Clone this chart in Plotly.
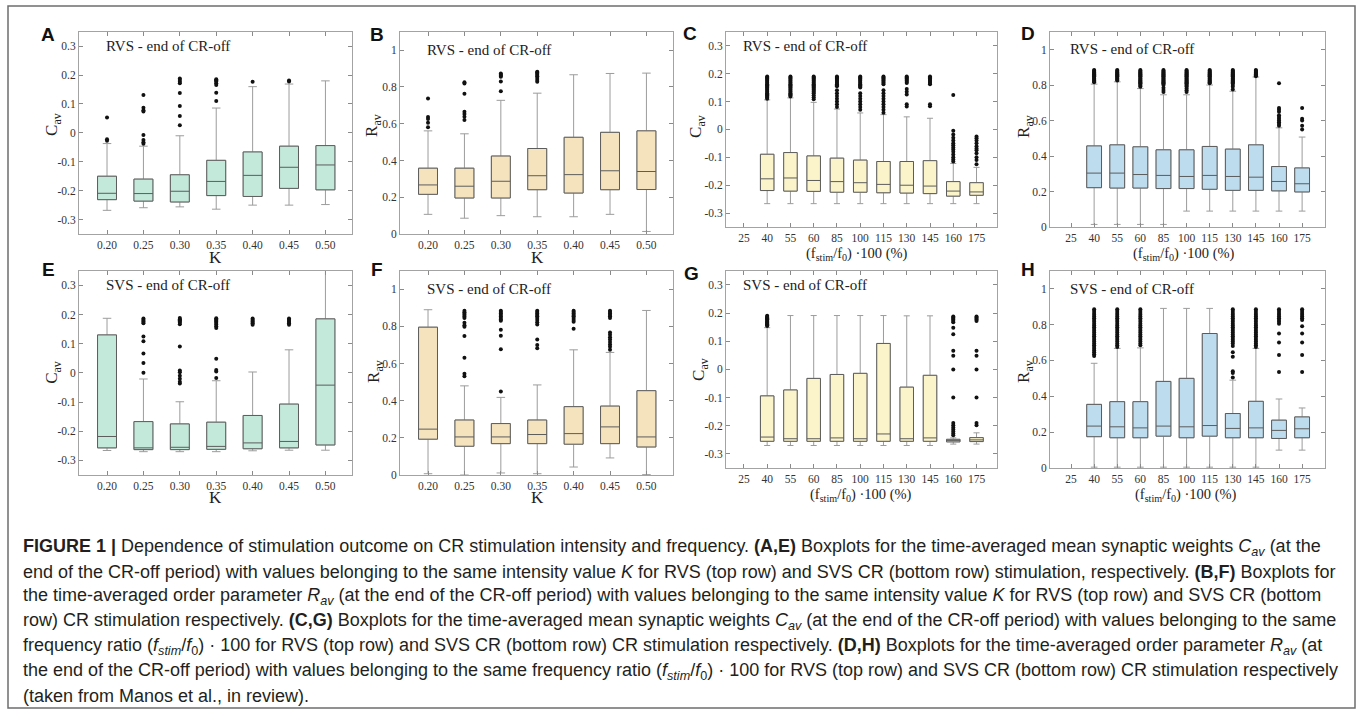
import plotly.graph_objects as go

W, H = 1358, 720

# ---------------- categories / ticks ----------------
K_CATS = ["0.20", "0.25", "0.30", "0.35", "0.40", "0.45", "0.50"]
F_CATS = ["25", "40", "55", "60", "85", "100", "115", "130", "145", "160", "175"]
F_DATA_CATS = ["40", "55", "60", "85", "100", "115", "130", "145", "160", "175"]
C_TICKVALS = [-0.3, -0.2, -0.1, 0, 0.1, 0.2, 0.3]
C_TICKTEXT = ["-0.3", "-0.2", "-0.1", "0", "0.1", "0.2", "0.3"]
R_TICKVALS = [0, 0.2, 0.4, 0.6, 0.8, 1]
R_TICKTEXT = ["0", "0.2", "0.4", "0.6", "0.8", "1"]

# ---------------- Panel A : RVS, C_av vs K ----------------
A_q1 = [-0.231, -0.236, -0.239, -0.217, -0.220, -0.192, -0.197]
A_med = [-0.209, -0.210, -0.202, -0.168, -0.147, -0.119, -0.111]
A_q3 = [-0.150, -0.160, -0.145, -0.095, -0.066, -0.046, -0.044]
A_lo = [-0.268, -0.259, -0.256, -0.264, -0.250, -0.250, -0.248]
A_hi = [-0.037, -0.046, -0.010, 0.086, 0.160, 0.169, 0.180]
A_out = [[0.053, -0.022, -0.027],
         [0.131, 0.087, 0.078, 0.074, -0.007, -0.025, -0.032, -0.038],
         [0.188, 0.183, 0.177, 0.172, 0.138, 0.093, 0.058, 0.026],
         [0.186, 0.182, 0.178, 0.172, 0.166, 0.139, 0.110],
         [0.177],
         [0.181, 0.178],
         []]

# ---------------- Panel B : RVS, R_av vs K ----------------
B_q1 = [0.216, 0.196, 0.196, 0.241, 0.223, 0.241, 0.242]
B_med = [0.267, 0.260, 0.287, 0.317, 0.323, 0.344, 0.340]
B_q3 = [0.358, 0.358, 0.424, 0.465, 0.526, 0.553, 0.561]
B_lo = [0.107, 0.086, 0.100, 0.094, 0.094, 0.107, 0.014]
B_hi = [0.561, 0.545, 0.727, 0.766, 0.866, 0.873, 0.875]
B_out = [[0.737, 0.636, 0.625, 0.605, 0.580],
         [0.825, 0.818, 0.763, 0.665, 0.652, 0.638, 0.620],
         [0.873, 0.866, 0.860, 0.855, 0.829, 0.777],
         [0.883, 0.878, 0.872, 0.865, 0.858, 0.848, 0.838, 0.828],
         [], [], []]

# ---------------- Panel C : RVS, C_av vs frequency ----------------
C_q1 = [-0.219, -0.221, -0.222, -0.225, -0.225, -0.227, -0.228, -0.230, -0.239, -0.236]
C_med = [-0.177, -0.174, -0.183, -0.187, -0.191, -0.197, -0.200, -0.203, -0.221, -0.224]
C_q3 = [-0.089, -0.083, -0.095, -0.103, -0.110, -0.115, -0.115, -0.112, -0.187, -0.191]
C_lo = [-0.266, -0.266, -0.266, -0.266, -0.266, -0.266, -0.266, -0.266, -0.266, -0.266]
C_hi = [0.106, 0.113, 0.097, 0.073, 0.059, 0.053, 0.045, 0.040, -0.122, -0.136]
C_out = [[0.190, 0.186, 0.182, 0.178, 0.174, 0.170, 0.166, 0.162, 0.158, 0.154, 0.150,
          0.146, 0.142, 0.138, 0.134, 0.130, 0.126, 0.122, 0.118, 0.114, 0.110],
         [0.190, 0.186, 0.182, 0.178, 0.174, 0.170, 0.166, 0.162, 0.158, 0.154, 0.150,
          0.146, 0.142, 0.138, 0.134, 0.130, 0.126, 0.122, 0.118],
         [0.190, 0.186, 0.182, 0.178, 0.174, 0.170, 0.166, 0.162, 0.158, 0.154, 0.150,
          0.146, 0.142, 0.138, 0.134, 0.130, 0.122, 0.115, 0.108],
         [0.190, 0.186, 0.182, 0.178, 0.174, 0.170, 0.166, 0.162, 0.158, 0.155,
          0.140, 0.130, 0.120, 0.110, 0.100, 0.090, 0.080],
         [0.190, 0.186, 0.182, 0.178, 0.174, 0.170, 0.166, 0.162, 0.158, 0.154, 0.150,
          0.130, 0.120, 0.110, 0.100, 0.090, 0.080, 0.070],
         [0.190, 0.186, 0.182, 0.178, 0.174, 0.170, 0.166, 0.162,
          0.140, 0.130, 0.120, 0.110, 0.100, 0.090, 0.080, 0.070, 0.060],
         [0.190, 0.186, 0.182, 0.178, 0.174, 0.170, 0.166, 0.145, 0.135, 0.125, 0.090, 0.082],
         [0.190, 0.186, 0.182, 0.178, 0.174, 0.170, 0.166, 0.162, 0.090, 0.083],
         [0.123, -0.005, -0.018, -0.030, -0.040, -0.050, -0.057, -0.065, -0.072,
          -0.080, -0.090, -0.100, -0.108, -0.115],
         [-0.025, -0.032, -0.040, -0.050, -0.060, -0.068, -0.075, -0.085, -0.100, -0.110, -0.125]]

# ---------------- Panel D : RVS, R_av vs frequency ----------------
D_q1 = [0.222, 0.220, 0.220, 0.217, 0.217, 0.213, 0.207, 0.207, 0.204, 0.198]
D_med = [0.304, 0.304, 0.296, 0.291, 0.285, 0.291, 0.285, 0.281, 0.257, 0.244]
D_q3 = [0.457, 0.463, 0.452, 0.435, 0.435, 0.454, 0.439, 0.463, 0.341, 0.333]
D_lo = [0.015, 0.015, 0.015, 0.015, 0.090, 0.090, 0.090, 0.090, 0.090, 0.090]
D_hi = [0.805, 0.818, 0.780, 0.745, 0.745, 0.800, 0.765, 0.845, 0.559, 0.507]
D_out = [[0.885, 0.880, 0.875, 0.870, 0.865, 0.860, 0.855, 0.850, 0.845, 0.840, 0.835,
          0.830, 0.825, 0.820, 0.815],
         [0.885, 0.880, 0.875, 0.870, 0.865, 0.860, 0.855, 0.850, 0.845, 0.840, 0.835,
          0.830, 0.825],
         [0.885, 0.880, 0.875, 0.870, 0.865, 0.860, 0.855, 0.850, 0.845, 0.840, 0.835,
          0.830, 0.825, 0.820, 0.815, 0.810, 0.805, 0.800, 0.795, 0.790],
         [0.885, 0.880, 0.875, 0.870, 0.865, 0.860, 0.855, 0.850, 0.845, 0.840, 0.835,
          0.830, 0.825, 0.820, 0.815, 0.810, 0.805, 0.800, 0.785, 0.772, 0.760],
         [0.885, 0.880, 0.875, 0.870, 0.865, 0.860, 0.855, 0.850, 0.845, 0.840, 0.835,
          0.830, 0.825, 0.820, 0.815, 0.810, 0.805, 0.800, 0.795, 0.790, 0.780, 0.770, 0.760],
         [0.885, 0.880, 0.875, 0.870, 0.865, 0.860, 0.855, 0.850, 0.845, 0.840, 0.835,
          0.830, 0.825, 0.820, 0.815, 0.810],
         [0.885, 0.880, 0.875, 0.870, 0.865, 0.860, 0.855, 0.850, 0.845, 0.840, 0.835,
          0.830, 0.825, 0.820, 0.815, 0.810, 0.800, 0.790, 0.775],
         [0.885, 0.880, 0.875, 0.870, 0.865, 0.860, 0.855, 0.850],
         [0.810, 0.670, 0.660, 0.650, 0.630, 0.620, 0.610, 0.600, 0.590, 0.580, 0.570],
         [0.670, 0.610, 0.600, 0.570, 0.550]]

# ---------------- Panel E : SVS, C_av vs K ----------------
E_q1 = [-0.257, -0.263, -0.263, -0.262, -0.260, -0.257, -0.247]
E_med = [-0.218, -0.257, -0.255, -0.252, -0.240, -0.235, -0.042]
E_q3 = [0.130, -0.167, -0.175, -0.169, -0.146, -0.107, 0.185]
E_lo = [-0.266, -0.270, -0.270, -0.270, -0.267, -0.265, -0.265]
E_hi = [0.187, -0.021, -0.099, -0.027, 0.003, 0.079, 0.370]
E_out = [[],
         [0.186, 0.182, 0.178, 0.174, 0.170, 0.125, 0.108, 0.066, 0.034, 0.000],
         [0.188, 0.184, 0.180, 0.176, 0.172, 0.167, 0.090, 0.008, 0.002, -0.010,
          -0.020, -0.030, -0.036],
         [0.187, 0.183, 0.179, 0.175, 0.171, 0.166, 0.160, 0.154, 0.048, 0.010, 0.005, -0.018],
         [0.186, 0.182, 0.178, 0.174, 0.170, 0.165],
         [0.186, 0.182, 0.178, 0.174, 0.170, 0.165],
         []]

# ---------------- Panel F : SVS, R_av vs K ----------------
F_q1 = [0.193, 0.155, 0.169, 0.169, 0.166, 0.169, 0.151]
F_med = [0.247, 0.205, 0.205, 0.218, 0.223, 0.259, 0.205]
F_q3 = [0.796, 0.296, 0.277, 0.296, 0.368, 0.371, 0.454]
F_lo = [0.007, 0.000, 0.011, 0.007, 0.043, 0.092, 0.002]
F_hi = [0.890, 0.480, 0.418, 0.485, 0.674, 0.660, 0.886]
F_out = [[],
         [0.885, 0.877, 0.869, 0.861, 0.853, 0.845, 0.820, 0.806, 0.798, 0.748, 0.632, 0.545, 0.532],
         [0.885, 0.878, 0.870, 0.862, 0.854, 0.846, 0.838, 0.830, 0.782, 0.750, 0.677, 0.450],
         [0.885, 0.878, 0.870, 0.862, 0.855, 0.845, 0.835, 0.822, 0.810, 0.730, 0.700, 0.683],
         [0.885, 0.878, 0.870, 0.862, 0.855, 0.845, 0.835, 0.825, 0.788],
         [0.885, 0.878, 0.870, 0.862, 0.855, 0.845, 0.768, 0.755, 0.742, 0.730, 0.716,
          0.703, 0.690, 0.675],
         []]

# ---------------- Panel G : SVS, C_av vs frequency ----------------
G_q1 = [-0.255, -0.255, -0.255, -0.255, -0.255, -0.255, -0.255, -0.255, -0.257, -0.256]
G_med = [-0.240, -0.246, -0.246, -0.243, -0.246, -0.229, -0.246, -0.243, -0.252, -0.250]
G_q3 = [-0.094, -0.073, -0.032, -0.018, -0.014, 0.092, -0.063, -0.021, -0.248, -0.242]
G_lo = [-0.270, -0.270, -0.270, -0.270, -0.270, -0.270, -0.270, -0.270, -0.265, -0.265]
G_hi = [0.148, 0.191, 0.191, 0.191, 0.191, 0.191, 0.190, 0.190, -0.243, -0.225]
G_out = [[0.190, 0.187, 0.184, 0.181, 0.178, 0.175, 0.172, 0.169, 0.166, 0.163, 0.160, 0.157, 0.154],
         [], [], [], [], [], [], [],
         [0.188, 0.184, 0.180, 0.176, 0.172, 0.167, 0.148, 0.125, 0.066, 0.048, 0.000, -0.100,
          -0.190, -0.198, -0.206, -0.213, -0.220, -0.227, -0.234],
         [0.188, 0.184, 0.180, 0.176, 0.172, 0.066, 0.048, 0.000, -0.100, -0.190, -0.198]]

# ---------------- Panel H : SVS, R_av vs frequency ----------------
H_q1 = [0.175, 0.169, 0.169, 0.178, 0.169, 0.178, 0.169, 0.169, 0.165, 0.169]
H_med = [0.234, 0.230, 0.224, 0.234, 0.230, 0.237, 0.221, 0.224, 0.210, 0.219]
H_q3 = [0.355, 0.370, 0.370, 0.483, 0.500, 0.750, 0.304, 0.372, 0.267, 0.285]
H_lo = [0.005, 0.005, 0.005, 0.005, 0.005, 0.005, 0.005, 0.005, 0.100, 0.100]
H_hi = [0.584, 0.667, 0.670, 0.890, 0.890, 0.890, 0.490, 0.667, 0.385, 0.335]
H_out = [[0.885, 0.875, 0.865, 0.855, 0.845, 0.835, 0.825, 0.815, 0.805, 0.795, 0.785, 0.775,
          0.765, 0.755, 0.745, 0.735, 0.725, 0.715, 0.705, 0.695, 0.685, 0.675, 0.665, 0.655,
          0.645, 0.635, 0.625],
         [0.885, 0.875, 0.865, 0.855, 0.845, 0.835, 0.825, 0.815, 0.805, 0.795, 0.785, 0.775,
          0.765, 0.755, 0.745, 0.735, 0.725, 0.715, 0.705, 0.695, 0.685, 0.675],
         [0.885, 0.875, 0.865, 0.855, 0.845, 0.835, 0.825, 0.815, 0.805, 0.795, 0.785, 0.775,
          0.765, 0.755, 0.745, 0.735, 0.725, 0.715, 0.705, 0.695, 0.685],
         [], [], [],
         [0.885, 0.875, 0.865, 0.855, 0.845, 0.835, 0.825, 0.815, 0.805, 0.795, 0.785, 0.775,
          0.765, 0.755, 0.745, 0.735, 0.725, 0.715, 0.705, 0.695, 0.680, 0.645, 0.620,
          0.540, 0.530, 0.505],
         [0.885, 0.875, 0.865, 0.855, 0.845, 0.835, 0.825, 0.815, 0.805, 0.795, 0.785, 0.775,
          0.765, 0.755, 0.745, 0.735, 0.725, 0.715, 0.705, 0.695, 0.685, 0.675],
         [0.885, 0.875, 0.865, 0.855, 0.845, 0.835, 0.825, 0.815, 0.805, 0.750, 0.700, 0.630, 0.535],
         [0.885, 0.875, 0.865, 0.855, 0.845, 0.835, 0.825, 0.790, 0.750, 0.700, 0.630, 0.535]]

# ---------------- styling ----------------
FILL_A = "#c3e9db"
FILL_B = "#f5e3be"
FILL_C = "#fbf4ca"
FILL_D = "#bddcee"
SERIF = "Liberation Serif"
SANS = "Liberation Sans"
FRAME = "#a3a3a3"

fig = go.Figure()
annotations = []


def px_x(x):
    return x / W


def px_y(y):
    return 1 - y / H


def add_panel(n, letter, letter_xy, box, cats, data_cats, q1, med, q3, lo, hi, outs,
              fill, bw, xr, yr, yvals, ytext, inner, ytitle, ytitle_xy, xtitle, xtitle_xy, xt_size):
    xa = "x" if n == 1 else f"x{n}"
    ya = "y" if n == 1 else f"y{n}"
    xkey = "xaxis" if n == 1 else f"xaxis{n}"
    ykey = "yaxis" if n == 1 else f"yaxis{n}"
    x0, x1, y0, y1 = box
    # whisker layer (light grey)
    fig.add_trace(go.Box(x=data_cats, q1=q1, median=med, q3=q3, lowerfence=lo, upperfence=hi,
                         fillcolor=fill, line=dict(color="#9c9c9c", width=1), whiskerwidth=0.45,
                         width=bw, boxpoints=False, hoverinfo="skip", showlegend=False,
                         xaxis=xa, yaxis=ya))
    # box layer (darker outline + median)
    fig.add_trace(go.Box(x=data_cats, q1=q1, median=med, q3=q3, lowerfence=q1, upperfence=q3,
                         fillcolor=fill, line=dict(color="#5c5c5c", width=1), whiskerwidth=0,
                         width=bw, boxpoints=False, hoverinfo="skip", showlegend=False,
                         xaxis=xa, yaxis=ya))
    ox, oy = [], []
    for c, vals in zip(data_cats, outs):
        for v in vals:
            ox.append(c)
            oy.append(v)
    fig.add_trace(go.Scatter(x=ox, y=oy, mode="markers", showlegend=False, hoverinfo="skip",
                             marker=dict(size=4, color="#111111"), xaxis=xa, yaxis=ya))
    fig.update_layout({
        xkey: dict(domain=[px_x(x0), px_x(x1)], anchor=ya, type="category",
                   categoryorder="array", categoryarray=cats, range=xr,
                   showline=True, linecolor=FRAME, linewidth=1, mirror="ticks",
                   ticks="inside", ticklen=4, tickcolor="#8a8a8a", showgrid=False,
                   zeroline=False, tickfont=dict(family=SERIF, size=11.5, color="#333333")),
        ykey: dict(domain=[px_y(y1), px_y(y0)], anchor=xa, range=yr,
                   tickvals=yvals, ticktext=ytext,
                   showline=True, linecolor=FRAME, linewidth=1, mirror="ticks",
                   ticks="inside", ticklen=4, tickcolor="#8a8a8a", showgrid=False,
                   zeroline=False, tickfont=dict(family=SERIF, size=11.5, color="#333333")),
    })
    # panel letter
    annotations.append(dict(text=f"<b>{letter}</b>", x=px_x(letter_xy[0]), y=px_y(letter_xy[1]),
                            xref="paper", yref="paper", showarrow=False,
                            xanchor="center", yanchor="middle",
                            font=dict(family=SANS, size=19, color="#111111")))
    # inner title, anchored at the first category (index 0) and the top tick value
    annotations.append(dict(text=inner, x=0, y=yvals[-1], xref=xa, yref=ya,
                            showarrow=False, xanchor="left", yanchor="middle", xshift=-3,
                            font=dict(family=SERIF, size=15, color="#222222")))
    # axis titles
    annotations.append(dict(text=ytitle, x=px_x(ytitle_xy[0]), y=px_y(ytitle_xy[1]),
                            xref="paper", yref="paper", showarrow=False, textangle=-90,
                            xanchor="center", yanchor="middle",
                            font=dict(family=SERIF, size=17, color="#222222")))
    annotations.append(dict(text=xtitle, x=px_x(xtitle_xy[0]), y=px_y(xtitle_xy[1]),
                            xref="paper", yref="paper", showarrow=False,
                            xanchor="center", yanchor="middle",
                            font=dict(family=SERIF, size=xt_size, color="#222222")))


C_TITLE = "C<sub>av</sub>"
R_TITLE = "R<sub>av</sub>"
FREQ_TITLE = "(f<sub>stim</sub>/f<sub>0</sub>) ·100 (%)"
RVS = "RVS - end of CR-off"
SVS = "SVS - end of CR-off"
KR = [-0.77, 6.73]
FR_C = [-0.77, 10.88]
FR_D = [-0.91, 10.99]
CY = [-0.35, 0.35]
RY = [0, 1.1]

add_panel(1, "A", (48, 35), (79, 352, 32, 236), K_CATS, K_CATS, A_q1, A_med, A_q3, A_lo, A_hi, A_out,
          FILL_A, 0.52, KR, CY, C_TICKVALS, C_TICKTEXT, RVS, C_TITLE, (53, 126), "K", (215, 260), 17)
add_panel(2, "B", (377, 35), (400, 673, 32, 236), K_CATS, K_CATS, B_q1, B_med, B_q3, B_lo, B_hi, B_out,
          FILL_B, 0.52, KR, RY, R_TICKVALS, R_TICKTEXT, RVS, R_TITLE, (373, 127), "K", (537, 260), 17)
add_panel(3, "C", (690, 34), (726, 997, 32, 229), F_CATS, F_DATA_CATS, C_q1, C_med, C_q3, C_lo, C_hi, C_out,
          FILL_C, 0.58, FR_C, CY, C_TICKVALS, C_TICKTEXT, RVS, C_TITLE, (697, 127), FREQ_TITLE, (857, 256), 14.5)
add_panel(4, "D", (1028, 34), (1050, 1325, 32, 229), F_CATS, F_DATA_CATS, D_q1, D_med, D_q3, D_lo, D_hi, D_out,
          FILL_D, 0.64, FR_D, RY, R_TICKVALS, R_TICKTEXT, RVS, R_TITLE, (1025, 128), FREQ_TITLE, (1184, 256), 14.5)
add_panel(5, "E", (48, 272), (79, 352, 273, 479), K_CATS, K_CATS, E_q1, E_med, E_q3, E_lo, E_hi, E_out,
          FILL_A, 0.52, KR, CY, C_TICKVALS, C_TICKTEXT, SVS, C_TITLE, (53, 376), "K", (215, 502), 17)
add_panel(6, "F", (377, 272), (400, 673, 273, 479), K_CATS, K_CATS, F_q1, F_med, F_q3, F_lo, F_hi, F_out,
          FILL_B, 0.52, KR, RY, R_TICKVALS, R_TICKTEXT, SVS, R_TITLE, (375, 375), "K", (537, 502), 17)
add_panel(7, "G", (691, 276), (726, 997, 273, 472), F_CATS, F_DATA_CATS, G_q1, G_med, G_q3, G_lo, G_hi, G_out,
          FILL_C, 0.58, FR_C, CY, C_TICKVALS, C_TICKTEXT, SVS, C_TITLE, (700, 372), FREQ_TITLE, (861, 499), 14.5)
add_panel(8, "H", (1028, 272), (1050, 1325, 273, 472), F_CATS, F_DATA_CATS, H_q1, H_med, H_q3, H_lo, H_hi, H_out,
          FILL_D, 0.64, FR_D, RY, R_TICKVALS, R_TICKTEXT, SVS, R_TITLE, (1025, 375), FREQ_TITLE, (1186, 499), 14.5)

# ---------------- caption ----------------
CAPTION_LINES = [
    "<b>FIGURE 1 |</b> Dependence of stimulation outcome on CR stimulation intensity and frequency. "
    "<b>(A,E)</b> Boxplots for the time-averaged mean synaptic weights <i>C<sub>av</sub></i> (at the",
    "end of the CR-off period) with values belonging to the same intensity value <i>K</i> for RVS "
    "(top row) and SVS CR (bottom row) stimulation, respectively. <b>(B,F)</b> Boxplots for",
    "the time-averaged order parameter <i>R<sub>av</sub></i> (at the end of the CR-off period) with "
    "values belonging to the same intensity value <i>K</i> for RVS (top row) and SVS CR (bottom",
    "row) CR stimulation respectively. <b>(C,G)</b> Boxplots for the time-averaged mean synaptic "
    "weights <i>C<sub>av</sub></i> (at the end of the CR-off period) with values belonging to the same",
    "frequency ratio (<i>f<sub>stim</sub></i>/<i>f</i><sub>0</sub>) · 100 for RVS (top row) and SVS CR "
    "(bottom row) CR stimulation respectively. <b>(D,H)</b> Boxplots for the time-averaged order parameter "
    "<i>R<sub>av</sub></i> (at",
    "the end of the CR-off period) with values belonging to the same frequency ratio "
    "(<i>f<sub>stim</sub></i>/<i>f</i><sub>0</sub>) · 100 for RVS (top row) and SVS CR (bottom row) "
    "CR stimulation respectively",
    "(taken from Manos et al., in review).",
]
for i, line in enumerate(CAPTION_LINES):
    annotations.append(dict(text=line, x=px_x(21), y=px_y(552 + 25 * i), xref="paper", yref="paper",
                            showarrow=False, xanchor="left", yanchor="middle", align="left",
                            font=dict(family=SANS, size=18, color="#231f20")))

fig.update_layout(
    width=W, height=H, autosize=False,
    margin=dict(l=0, r=0, t=0, b=0),
    paper_bgcolor="white", plot_bgcolor="white",
    boxmode="overlay",
    annotations=annotations,
    shapes=[dict(type="rect", xref="paper", yref="paper",
                 x0=px_x(8), x1=px_x(1355), y0=px_y(714), y1=px_y(6),
                 line=dict(color="#6d6d6d", width=1.5))],
)

fig.write_html("out.html", config={"displayModeBar": False},
               post_script="document.body.style.margin='0';document.body.style.overflow='hidden';")
